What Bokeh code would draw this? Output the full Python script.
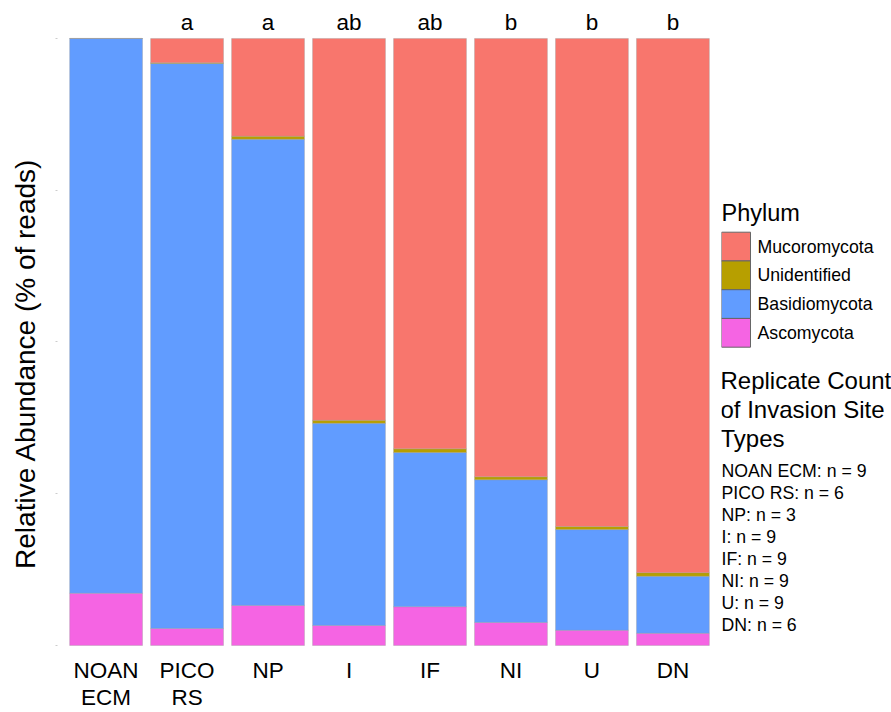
import math
from bokeh.plotting import figure
from bokeh.models import ColumnDataSource, FactorRange, Range1d, FixedTicker
from bokeh.layouts import row
from bokeh.core.properties import value
from bokeh.embed import file_html
from bokeh.resources import INLINE

# ---------------- data ----------------
sites = ["NOAN ECM", "PICO RS", "NP", "I", "IF", "NI", "U", "DN"]
replicates = [9, 6, 3, 9, 9, 9, 9, 6]
letters = ["", "a", "a", "ab", "ab", "b", "b", "b"]

ascomycota = [8.6, 2.8, 6.6, 3.3, 6.4, 3.8, 2.5, 2.0]
basidiomycota = [91.4, 93.1, 76.8, 33.3, 25.4, 23.5, 16.6, 9.4]
unidentified = [0.0, 0.1, 0.5, 0.5, 0.6, 0.5, 0.5, 0.6]
mucoromycota = [0.0, 4.0, 16.1, 62.9, 67.6, 72.2, 80.4, 88.0]

phyla = ["Ascomycota", "Basidiomycota", "Unidentified", "Mucoromycota"]
phylum_colors = ["#F564E3", "#619CFF", "#B79F00", "#F8766D"]
y_ticks = [0, 25, 50, 75, 100]

FONT = "Liberation Sans"
H = 712

factors = [s.replace(" ", "\n") for s in sites]
source = ColumnDataSource(dict(
    site=factors,
    Ascomycota=ascomycota,
    Basidiomycota=basidiomycota,
    Unidentified=unidentified,
    Mucoromycota=mucoromycota,
    label_y=[-2.14] * len(sites),
))
lt = [(f, l) for f, l in zip(factors, letters) if l]
letter_source = ColumnDataSource(dict(
    site=[f for f, _ in lt], letter=[l for _, l in lt], letter_y=[102.68] * len(lt)))

# ---------------- left: y axis title ----------------
pl = figure(width=52, height=H, x_range=Range1d(0, 52), y_range=Range1d(H, 0),
            toolbar_location=None, output_backend="svg", min_border=0,
            x_axis_location=None, y_axis_location=None, outline_line_color=None)
pl.grid.visible = False
pl.text(x=[25], y=[363], text=["Relative Abundance (% of reads)"], angle=math.pi / 2,
        text_font=value(FONT), text_font_size="28px", text_align="center",
        text_baseline="middle", text_color="#000000")

# ---------------- main chart ----------------
p = figure(width=669, height=H,
           x_range=FactorRange(*factors, range_padding=0.1, range_padding_units="absolute"),
           y_range=Range1d(-11.04, 106.26),
           toolbar_location=None, output_backend="svg", x_axis_location=None,
           min_border_left=5, min_border_right=0, min_border_top=0, min_border_bottom=0,
           outline_line_color=None)

p.vbar_stack(phyla, x="site", width=0.9, color=phylum_colors, source=source,
             line_color="#9a9a9a", line_alpha=0.6, line_width=0.6)

p.text(x="site", y="letter_y", text="letter", source=letter_source,
       text_font=value(FONT), text_font_size="22.5px", text_align="center",
       text_baseline="alphabetic", text_color="#000000")

# category labels under the bars
p.text(x="site", y="label_y", text="site", source=source,
       text_font=value(FONT), text_font_size="22.5px", text_align="center",
       text_baseline="top", text_line_height=1.08, text_color="#000000")

p.grid.visible = False
p.yaxis.ticker = FixedTicker(ticks=y_ticks)
p.yaxis.major_label_overrides = {t: "" for t in y_ticks}
p.yaxis.major_label_standoff = 0
p.yaxis.major_tick_out = 2
p.yaxis.major_tick_in = 0
p.yaxis.major_tick_line_color = "#cccccc"
p.yaxis.minor_tick_line_color = None
p.yaxis.axis_line_color = None

# ---------------- right: legends (page pixel coordinates) ----------------
pr = figure(width=170, height=H, x_range=Range1d(721, 891), y_range=Range1d(H, 0),
            toolbar_location=None, output_backend="svg", min_border=0,
            x_axis_location=None, y_axis_location=None, outline_line_color=None)
pr.grid.visible = False

pr.text(x=[721], y=[212], text=["Phylum"], text_font=value(FONT), text_font_size="23.5px",
        text_baseline="middle", text_align="left", text_color="#000000")

leg_names = phyla[::-1]
leg_colors = phylum_colors[::-1]
box_top = [231.7 + 28.75 * i for i in range(len(leg_names))]
pr.quad(left=[721] * 4, right=[750] * 4, top=box_top, bottom=[t + 28.75 for t in box_top],
        fill_color=leg_colors, line_color="#666666", line_width=1)
pr.text(x=[757] * 4, y=[t + 14.4 for t in box_top], text=leg_names,
        text_font=value(FONT), text_font_size="17.7px", text_baseline="middle",
        text_align="left", text_color="#000000")

title_lines = ["Replicate Count", "of Invasion Site", "Types"]
pr.text(x=[720] * 3, y=[380, 408.7, 438], text=title_lines,
        text_font=value(FONT), text_font_size="24px", text_baseline="middle",
        text_align="left", text_color="#000000")

count_lines = [f"{s}: n = {n}" for s, n in zip(sites, replicates)]
pr.text(x=[721] * len(count_lines), y=[470 + 22.1 * i for i in range(len(count_lines))],
        text=count_lines, text_font=value(FONT), text_font_size="17.7px",
        text_baseline="middle", text_align="left", text_color="#000000")

layout = row(pl, p, pr)
open("out.html", "w").write(file_html(layout, INLINE))
